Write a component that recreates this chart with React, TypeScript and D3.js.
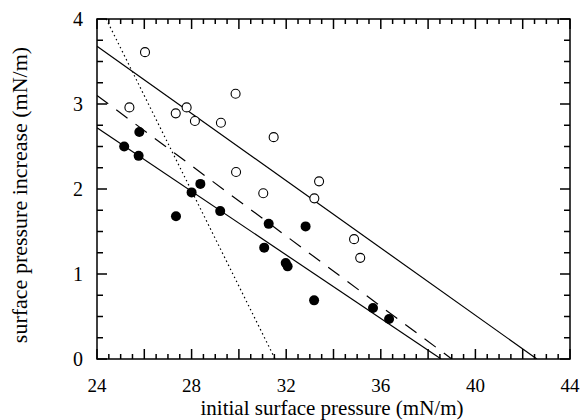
import React, { useEffect, useRef } from 'react';
import * as d3 from 'd3';

// open circles
const openX = [26.03, 25.37, 27.33, 27.79, 28.14, 29.24, 29.86, 31.47, 29.88, 31.03, 33.39, 33.19, 34.87, 35.13];
const openY = [3.61, 2.96, 2.89, 2.96, 2.80, 2.78, 3.12, 2.61, 2.20, 1.95, 2.09, 1.89, 1.41, 1.19];

// filled circles
const filledX = [25.79, 25.15, 25.76, 28.00, 28.37, 27.34, 29.21, 31.26, 32.82, 31.07, 31.98, 32.06, 33.18, 35.67, 36.35];
const filledY = [2.67, 2.50, 2.39, 1.96, 2.06, 1.68, 1.74, 1.59, 1.56, 1.31, 1.13, 1.09, 0.69, 0.60, 0.47];

// fitted lines (end points in data units)
const upperLine = [[24, 3.68], [42.6, 0]];
const dashedLine = [[24, 3.10], [39.0, 0]];
const lowerLine = [[24, 2.72], [38.55, 0]];
const dottedLine = [[24.3, 4.05], [31.53, 0]];

const xTicks = [24, 28, 32, 36, 40, 44];
const yTicks = [0, 1, 2, 3, 4];
const xMinor = [24, 24.5, 25, 25.5, 26, 26.5, 27, 27.5, 28, 28.5, 29, 29.5, 30, 30.5, 31, 31.5, 32, 32.5, 33, 33.5,
  34, 34.5, 35, 35.5, 36, 36.5, 37, 37.5, 38, 38.5, 39, 39.5, 40, 40.5, 41, 41.5, 42, 42.5, 43, 43.5, 44];
const yMinor = [0, 0.25, 0.5, 0.75, 1, 1.25, 1.5, 1.75, 2, 2.25, 2.5, 2.75, 3, 3.25, 3.5, 3.75, 4];

const width = 583;
const height = 420;
const left = 97, right = 570, top = 19, bottom = 359;

const x = d3.scaleLinear().domain([24, 44]).range([left, right]);
const y = d3.scaleLinear().domain([0, 4]).range([bottom, top]);
const xLen = v => (v % 2 === 0 ? 10 : 5);
const yLen = v => (v % 1 === 0 ? 10 : 6);

const App = () => {
  const ref = useRef(null);

  useEffect(() => {
    const svg = d3.select(ref.current);
    svg.selectAll('*').remove();

    svg.append('defs').append('clipPath').attr('id', 'plot')
      .append('rect')
      .attr('x', left).attr('y', top)
      .attr('width', right - left).attr('height', bottom - top);

    // frame
    svg.append('rect')
      .attr('x', left).attr('y', top)
      .attr('width', right - left).attr('height', bottom - top)
      .attr('fill', 'none').attr('stroke', '#000').attr('stroke-width', 1.5);

    // tick labels
    const font = '"Liberation Serif", "Times New Roman", serif';
    svg.append('g').selectAll('text')
      .data(xTicks).enter().append('text')
      .attr('x', d => x(d)).attr('y', 392)
      .attr('text-anchor', 'middle')
      .style('font-family', font).style('font-size', '19px')
      .text(d => d);
    svg.append('g').selectAll('text')
      .data(yTicks).enter().append('text')
      .attr('x', 83).attr('y', d => y(d)).attr('dy', '0.35em')
      .attr('text-anchor', 'end')
      .style('font-family', font).style('font-size', '20px')
      .text(d => d);

    // axis titles
    svg.append('text')
      .attr('x', 332).attr('y', 415)
      .attr('text-anchor', 'middle')
      .style('font-family', font).style('font-size', '21px')
      .text('initial surface pressure (mN/m)');
    svg.append('text')
      .attr('transform', `translate(27, 195) rotate(-90)`)
      .attr('text-anchor', 'middle')
      .style('font-family', font).style('font-size', '22px')
      .text('surface pressure increase (mN/m)');

    // fitted lines
    const line = d3.line().x(d => x(d[0])).y(d => y(d[1]));
    const plot = svg.append('g').attr('clip-path', 'url(#plot)');
    plot.append('path').attr('d', line(upperLine))
      .attr('fill', 'none').attr('stroke', '#000').attr('stroke-width', 1.2);
    plot.append('path').attr('d', line(lowerLine))
      .attr('fill', 'none').attr('stroke', '#000').attr('stroke-width', 1.2);
    plot.append('path').attr('d', line(dashedLine))
      .attr('fill', 'none').attr('stroke', '#000').attr('stroke-width', 1.2)
      .attr('stroke-dasharray', '14,10');
    plot.append('path').attr('d', line(dottedLine))
      .attr('fill', 'none').attr('stroke', '#000').attr('stroke-width', 1.2)
      .attr('stroke-dasharray', '1.5,3');

    // points
    svg.append('g').selectAll('circle')
      .data(openX).enter().append('circle')
      .attr('cx', d => x(d)).attr('cy', (_, i) => y(openY[i]))
      .attr('r', 4.5)
      .attr('fill', '#fff').attr('stroke', '#000').attr('stroke-width', 1.1);
    svg.append('g').selectAll('circle')
      .data(filledX).enter().append('circle')
      .attr('cx', d => x(d)).attr('cy', (_, i) => y(filledY[i]))
      .attr('r', 5)
      .attr('fill', '#000');
  }, []);

  // ticks drawn as JSX, inward on all four sides
  return (
    <div style={{ position: 'absolute', left: 0, top: 0, width, height, background: '#fff' }}>
      <svg width={width} height={height} style={{ position: 'absolute', left: 0, top: 0 }}>
        <g stroke="#000" strokeWidth={1.5}>
          {xMinor.map(v => (
            <line key={'b' + v} x1={x(v)} x2={x(v)} y1={bottom} y2={bottom - xLen(v)} />
          ))}
          {xMinor.map(v => (
            <line key={'t' + v} x1={x(v)} x2={x(v)} y1={top} y2={top + xLen(v)} />
          ))}
          {yMinor.map(v => (
            <line key={'l' + v} x1={left} x2={left + yLen(v)} y1={y(v)} y2={y(v)} />
          ))}
          {yMinor.map(v => (
            <line key={'r' + v} x1={right} x2={right - yLen(v)} y1={y(v)} y2={y(v)} />
          ))}
        </g>
      </svg>
      <svg ref={ref} width={width} height={height} style={{ position: 'absolute', left: 0, top: 0 }}></svg>
    </div>
  );
};

export default App;
